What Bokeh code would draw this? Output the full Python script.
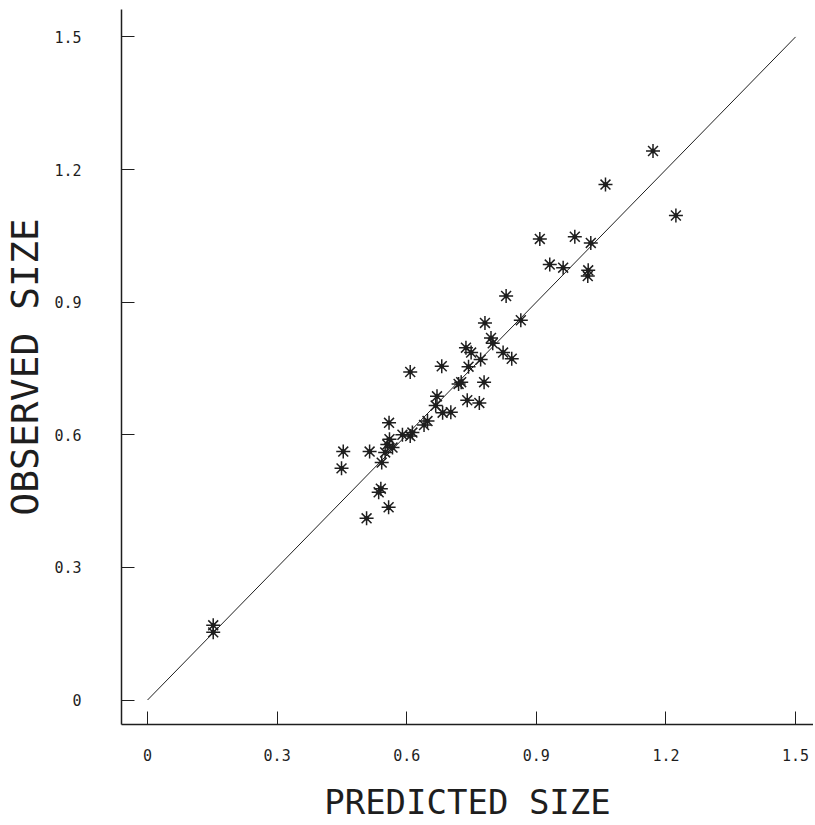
from bokeh.plotting import figure
from bokeh.models import Range1d, FixedTicker
from bokeh.embed import file_html
from bokeh.resources import INLINE

# Predicted vs observed size
predicted = [0.152, 0.152, 0.453, 0.449, 0.514, 0.542, 0.540, 0.535, 0.558, 0.507,
             0.559, 0.555, 0.567, 0.550, 0.590, 0.613, 0.608, 0.648, 0.670, 0.667,
             0.683, 0.702, 0.740, 0.768, 0.726, 0.779, 0.781, 0.864, 0.795, 0.799,
             0.823, 0.843, 0.737, 0.749, 0.771, 0.681, 0.743, 0.608, 0.931, 0.962,
             1.020, 1.019, 0.830, 1.170, 1.060, 1.223, 1.026, 0.908, 0.989, 0.720,
             0.560, 0.640]
observed = [0.169, 0.153, 0.562, 0.524, 0.562, 0.537, 0.478, 0.470, 0.436, 0.411,
            0.627, 0.578, 0.571, 0.560, 0.600, 0.605, 0.597, 0.631, 0.687, 0.666,
            0.650, 0.651, 0.678, 0.672, 0.719, 0.719, 0.853, 0.859, 0.819, 0.807,
            0.786, 0.772, 0.797, 0.786, 0.770, 0.755, 0.754, 0.742, 0.985, 0.978,
            0.972, 0.959, 0.914, 1.242, 1.166, 1.096, 1.034, 1.043, 1.048, 0.715,
            0.590, 0.622]

line_x = [0.0, 1.5]
line_y = [0.0, 1.5]

tick_values = [0, 0.3, 0.6, 0.9, 1.2, 1.5]
tick_labels = ["0", "0.3", "0.6", "0.9", "1.2", "1.5"]

FONT = "DejaVu Sans Mono"
INK = "#1e1e1e"

p = figure(width=813, height=824, output_backend="svg", toolbar_location=None,
           x_range=Range1d(-0.0603, 1.5415), y_range=Range1d(-0.0554, 1.562),
           min_border_left=116, min_border_right=0, min_border_top=9, min_border_bottom=100)
p.outline_line_color = None
p.xgrid.visible = False
p.ygrid.visible = False
p.background_fill_color = "white"
p.border_fill_color = "white"

p.line(line_x, line_y, line_color=INK, line_width=1)
p.scatter(predicted, observed, marker="asterisk", size=14, line_color=INK, line_width=1.5)
p.scatter(predicted, observed, marker="circle", size=4, fill_color=INK, line_color=INK)

for ax, title in ((p.xaxis[0], "PREDICTED SIZE"), (p.yaxis[0], "OBSERVED SIZE")):
    ax.ticker = FixedTicker(ticks=tick_values)
    ax.major_label_overrides = {v: s for v, s in zip(tick_values, tick_labels)}
    ax.minor_tick_line_color = None
    ax.major_tick_in = 13
    ax.major_tick_out = 0
    ax.major_tick_line_color = INK
    ax.major_tick_line_width = 1
    ax.axis_line_color = INK
    ax.axis_line_width = 1.5
    ax.major_label_text_font = FONT
    ax.major_label_text_font_size = "15px"
    ax.major_label_text_color = INK
    ax.axis_label = title
    ax.axis_label_text_font = FONT
    ax.axis_label_text_font_style = "normal"
    ax.axis_label_text_color = INK

p.xaxis.axis_label_text_font_size = "34px"
p.yaxis.axis_label_text_font_size = "38px"
p.xaxis.major_label_standoff = 24
p.xaxis.axis_label_standoff = 18
p.yaxis.major_label_standoff = 40
p.yaxis.major_label_orientation = "horizontal"
p.yaxis.axis_label_standoff = 4

open("out.html", "w").write(file_html(p, INLINE))
